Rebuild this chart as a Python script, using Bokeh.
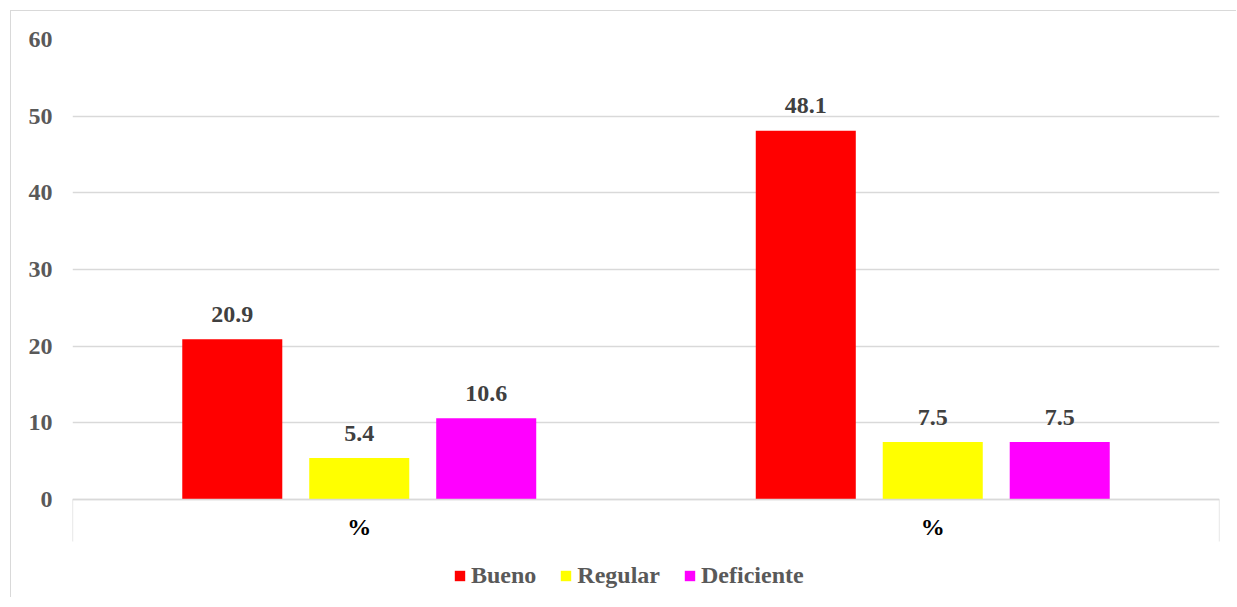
from bokeh.plotting import figure
from bokeh.models import Range1d, FixedTicker, Legend, LegendItem, ColumnDataSource
from bokeh.core.properties import value
from bokeh.embed import file_html
from bokeh.resources import INLINE

categories = ["%", "%"]
series = ["Bueno", "Regular", "Deficiente"]
bueno = [20.9, 48.1]
regular = [5.4, 7.5]
deficiente = [10.6, 7.5]
colors = ["#FF0000", "#FFFF00", "#FF00FF"]
y_ticks = [0, 10, 20, 30, 40, 50, 60]

FONT = value("Liberation Serif")

# frame extends below the value 0 so that the category labels and the legend fit inside it
FRAME_H = 558
Y_MAX = 60
Y_MIN = Y_MAX - FRAME_H * Y_MAX / 460.0

p = figure(frame_width=1147, frame_height=FRAME_H, output_backend="svg", toolbar_location=None,
           x_range=Range1d(0, len(categories)), y_range=Range1d(Y_MIN, Y_MAX),
           min_border_left=61, min_border_right=17, min_border_top=28, min_border_bottom=0)
p.margin = (10, 0, 0, 10)
p.styles = {"border-left": "1px solid #d9d9d9", "border-top": "1px solid #d9d9d9"}
p.outline_line_color = None
p.background_fill_color = "white"
p.border_fill_color = "white"

# grid
p.xgrid.grid_line_color = None
p.ygrid.grid_line_color = "#d9d9d9"
p.ygrid.grid_line_width = 1.3

# y axis
p.yaxis.ticker = FixedTicker(ticks=y_ticks)
p.yaxis.axis_line_color = None
p.yaxis.major_tick_line_color = None
p.yaxis.major_tick_out = 0
p.yaxis.major_tick_in = 0
p.yaxis.minor_tick_line_color = None
p.yaxis.minor_tick_out = 0
p.yaxis.minor_tick_in = 0
p.yaxis.major_label_standoff = 20
p.yaxis.major_label_text_font = "Liberation Serif"
p.yaxis.major_label_text_font_style = "bold"
p.yaxis.major_label_text_font_size = "24px"
p.yaxis.major_label_text_color = "#595959"

# x axis, fixed at value 0
centers = [i + 0.5 for i in range(len(categories))]
p.xaxis.fixed_location = 0
p.xaxis.ticker = FixedTicker(ticks=centers, minor_ticks=[0, len(categories)])
p.xaxis.major_label_overrides = {c: lab for c, lab in zip(centers, categories)}
p.xaxis.axis_line_color = "#d9d9d9"
p.xaxis.axis_line_width = 1.3
p.xaxis.major_tick_line_color = None
p.xaxis.major_tick_out = 0
p.xaxis.major_tick_in = 0
p.xaxis.minor_tick_in = 0
p.xaxis.minor_tick_out = 42
p.xaxis.minor_tick_line_color = "#d9d9d9"
p.xaxis.minor_tick_line_width = 1.3
p.xaxis.major_label_standoff = -28
p.xaxis.major_label_text_font = "Liberation Serif"
p.xaxis.major_label_text_font_style = "bold"
p.xaxis.major_label_text_font_size = "24px"
p.xaxis.major_label_text_color = "#000000"

bar_w = 0.1744
step = 0.2214
offsets = [-step, 0, step]
items = []
for vals, name, col, off in zip([bueno, regular, deficiente], series, colors, offsets):
    src = ColumnDataSource(dict(x=[c + off for c in centers], top=vals,
                                lab=[f"{v:.1f}" for v in vals]))
    r = p.vbar(x="x", top="top", width=bar_w, bottom=0, source=src,
               fill_color=col, line_color=None)
    p.text(x="x", y="top", text="lab", source=src, text_font=FONT,
           text_font_style="bold", text_font_size="24px", text_color="#404040",
           text_align="center", text_baseline="alphabetic", y_offset=-25)
    items.append(LegendItem(label=name, renderers=[r]))

legend = Legend(items=items, orientation="horizontal", location=(381, 8),
                glyph_width=13, glyph_height=13, label_standoff=5, spacing=23,
                padding=0, margin=0, border_line_color=None,
                background_fill_alpha=0,
                label_text_font="Liberation Serif", label_text_font_style="bold",
                label_text_font_size="24px", label_text_color="#595959",
                label_height=24)
p.add_layout(legend, "center")

open("out.html", "w").write(file_html(p, INLINE))
